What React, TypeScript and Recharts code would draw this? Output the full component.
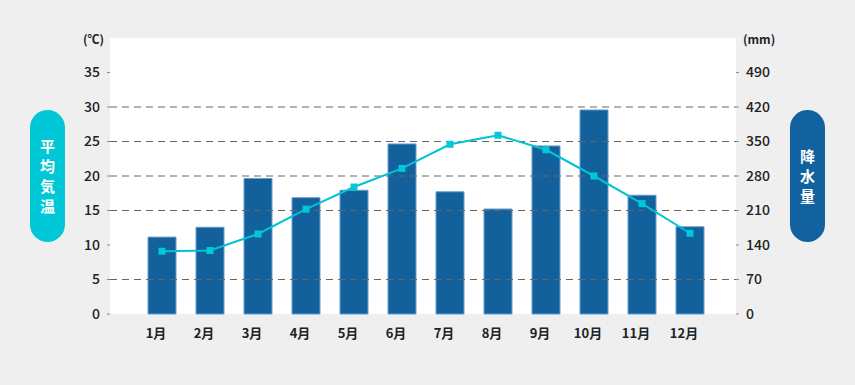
import { ComposedChart, Bar, Line, XAxis, YAxis, CartesianGrid, ReferenceLine } from 'recharts'

const months = ['1月', '2月', '3月', '4月', '5月', '6月', '7月', '8月', '9月', '10月', '11月', '12月']
const rainfall = [156, 176, 275, 236, 251, 345, 248, 213, 341, 414, 241, 177]
const temperature = [9.1, 9.2, 11.6, 15.2, 18.4, 21.1, 24.6, 25.9, 23.8, 20.0, 16.0, 11.7]
const tempTicks = [0, 5, 10, 15, 20, 25, 30, 35]
const rainTicks = [0, 70, 140, 210, 280, 350, 420, 490]
const gridValues = [5, 15, 20, 25, 30]

const data = months.map((m, i) => ({ month: m, rain: rainfall[i], temp: temperature[i] }))

const FONT = "'Noto Sans CJK JP', 'Noto Sans', sans-serif"
const tickStyle = { fill: '#222', fontSize: 14, fontWeight: 500, fontFamily: FONT }

const SquareDot = (props: any) => {
  const { cx, cy, index } = props
  if (cx == null || cy == null) return <g key={index} />
  return <rect key={index} x={cx - 3.5} y={cy - 3.5} width={7} height={7} fill="#00c8d8" />
}

const Pill = ({ text, color, left }: { text: string; color: string; left: number }) => (
  <div
    style={{
      position: 'absolute', left, top: 110, width: 35, height: 132, borderRadius: 18,
      background: color, color: '#fff', display: 'flex', flexDirection: 'column',
      alignItems: 'center', justifyContent: 'center', fontFamily: FONT, fontSize: 15, fontWeight: 700,
    }}
  >
    {text.split('').map((c, i) => (
      <div key={i} style={{ lineHeight: '20px' }}>{c}</div>
    ))}
  </div>
)

export default function App() {
  return (
    <div style={{ position: 'relative', width: 855, height: 385, background: '#efefef', overflow: 'hidden' }}>
      <style>{'body{margin:0}'}</style>
      <ComposedChart width={855} height={385} data={data} margin={{ top: 38, right: 0, bottom: 0, left: 0 }}>
        <CartesianGrid fill="#fff" horizontal={false} vertical={false} />
        <XAxis
          dataKey="month"
          padding={{ left: 28, right: 22 }}
          height={71}
          axisLine={false}
          tickLine={false}
          tickMargin={9}
          interval={0}
          tick={{ fill: '#222', fontSize: 13, fontWeight: 700, fontFamily: FONT, dx: -6 }}
        />
        <YAxis
          yAxisId="temp"
          width={110}
          domain={[0, 40]}
          ticks={tempTicks}
          axisLine={false}
          tickLine={{ stroke: '#888' }}
          tickSize={3}
          tickMargin={7}
          tick={tickStyle}
        />
        <YAxis
          yAxisId="rain"
          orientation="right"
          width={119}
          domain={[0, 560]}
          ticks={rainTicks}
          axisLine={false}
          tickLine={{ stroke: '#888' }}
          tickSize={3}
          tickMargin={7}
          tick={tickStyle}
        />
        {gridValues.map(v => (
          <ReferenceLine key={v} yAxisId="temp" y={v} stroke="#666" strokeDasharray="7 5" />
        ))}
        <Bar
          yAxisId="rain"
          dataKey="rain"
          barSize={28}
          fill="#12609c"
          stroke="#6b9cc9"
          strokeWidth={1}
          isAnimationActive={false}
        />
        <Line
          yAxisId="temp"
          dataKey="temp"
          type="linear"
          stroke="#00c3d3"
          strokeWidth={2}
          dot={SquareDot}
          activeDot={false}
          isAnimationActive={false}
        />
      </ComposedChart>
      <div style={{ position: 'absolute', left: 83, top: 30, fontFamily: FONT, fontSize: 12, fontWeight: 700, color: '#222' }}>(℃)</div>
      <div style={{ position: 'absolute', left: 743, top: 30, fontFamily: FONT, fontSize: 12, fontWeight: 700, color: '#222' }}>(mm)</div>
      <Pill text="平均気温" color="#00c8d7" left={30} />
      <Pill text="降水量" color="#1262a0" left={790} />
    </div>
  )
}
